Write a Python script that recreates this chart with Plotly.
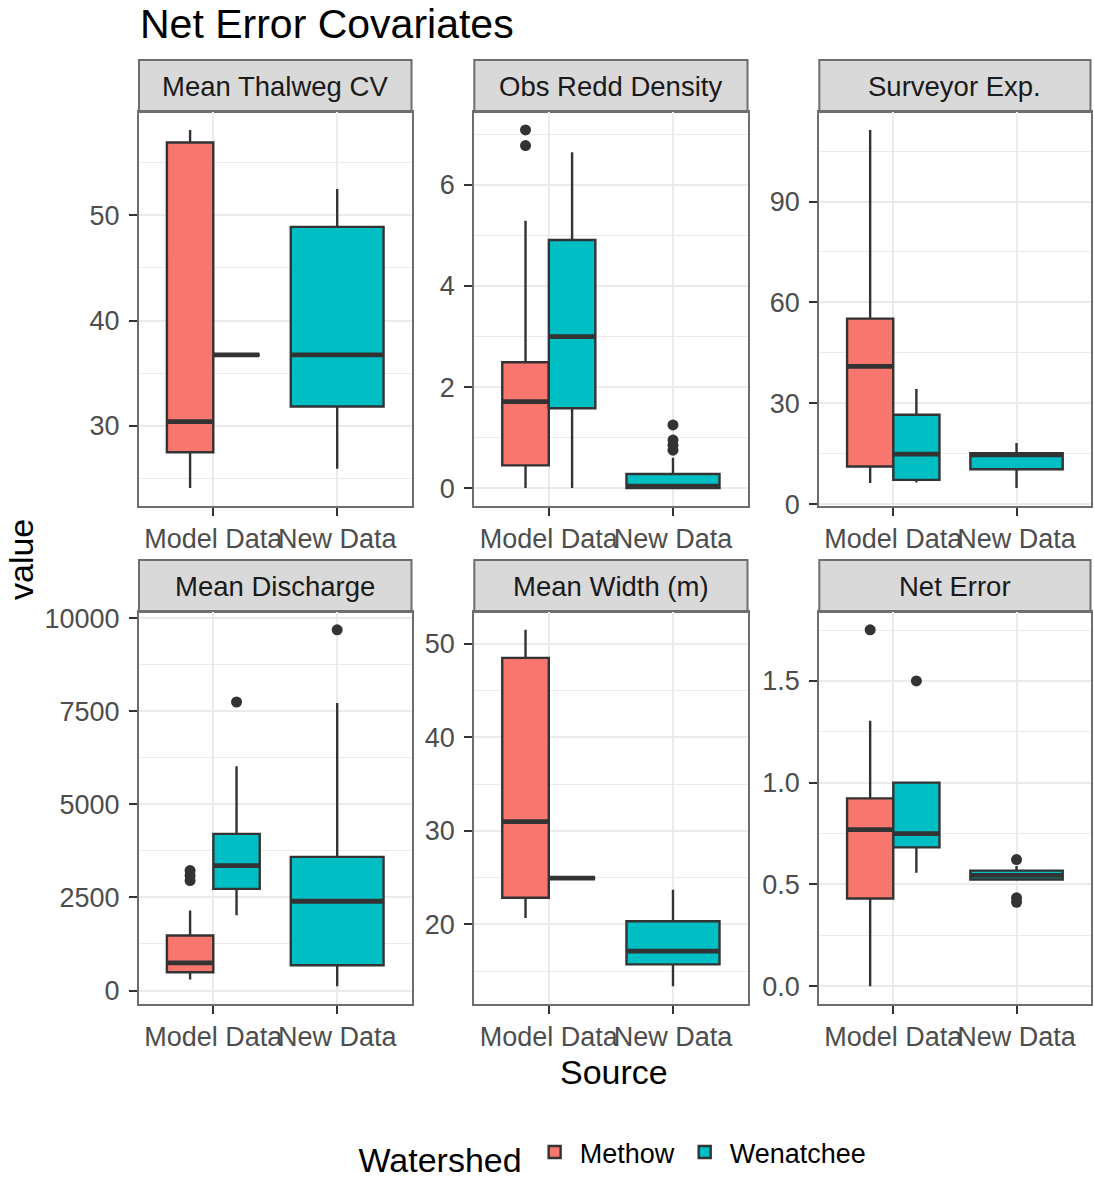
import plotly.graph_objects as go

# ---------------- data ----------------
facets = ["Mean Thalweg CV", "Obs Redd Density", "Surveyor Exp.",
          "Mean Discharge", "Mean Width (m)", "Net Error"]
sources = ["Model Data", "New Data"]
watersheds = ["Methow", "Wenatchee"]

# Methow, Model Data (one value per facet)
methow_model_lower = [24.1, 0.0, 6.3, 295, 20.7, 0.0]
methow_model_q1 = [27.5, 0.45, 11.2, 492, 22.85, 0.431]
methow_model_median = [30.4, 1.71, 41.0, 743, 31.0, 0.769]
methow_model_q3 = [56.9, 2.49, 55.2, 1476, 48.5, 0.923]
methow_model_upper = [58.1, 5.29, 111.3, 2146, 51.5, 1.304]
methow_model_outliers = [[], [7.09, 6.78], [], [3220, 3086, 2952], [], [1.751]]

# Wenatchee, Model Data
wen_model_lower = [36.75, 0.0, 6.45, 2021, 24.95, 0.557]
wen_model_q1 = [36.75, 1.58, 7.25, 2729, 24.95, 0.682]
wen_model_median = [36.75, 3.0, 14.9, 3354, 24.95, 0.750]
wen_model_q3 = [36.75, 4.91, 26.6, 4205, 24.95, 1.0]
wen_model_upper = [36.75, 6.65, 34.3, 6018, 24.95, 1.0]
wen_model_outliers = [[], [], [], [7746], [], [1.5]]

# Wenatchee, New Data
wen_new_lower = [25.94, 0.0, 4.8, 116, 13.4, 0.522]
wen_new_q1 = [31.85, 0.0, 10.4, 679, 15.73, 0.524]
wen_new_median = [36.75, 0.04, 14.7, 2396, 17.15, 0.544]
wen_new_q3 = [48.9, 0.28, 15.2, 3587, 20.35, 0.568]
wen_new_upper = [52.5, 0.6, 18.2, 7719, 23.7, 0.59]
wen_new_outliers = [[], [1.25, 0.95, 0.85, 0.75], [], [9684], [], [0.622, 0.434, 0.412]]

# y-axis tick steps per facet
major_steps = [10, 2, 30, 2500, 10, 0.5]
minor_steps = [5, 1, 15, 1250, 5, 0.25]
tick_formats = ["d", "d", "d", "d", "d", ".1f"]

# ---------------- styling / layout ----------------
W, H = 1094, 1183
colors = {"Methow": "#F8766D", "Wenatchee": "#00BFC4"}
dark = "#333333"
grid = "#EBEBEB"
border = "#6E6E6E"
FONT = "Liberation Sans, Arial, sans-serif"
dodge_width = 0.75

col_px = [(139, 411.5), (474.3, 747.5), (819.3, 1090.5)]
row_px = [(112, 506), (612, 1004)]
strip_px = [(60, 112), (560, 612)]


def fx(v):
    return v / W


def fy(v):
    return 1 - v / H


groups = [
    # (watershed, source index, n groups at that source, slot, stats)
    ("Methow", 0, 2, 0, methow_model_lower, methow_model_q1, methow_model_median,
     methow_model_q3, methow_model_upper, methow_model_outliers),
    ("Wenatchee", 0, 2, 1, wen_model_lower, wen_model_q1, wen_model_median,
     wen_model_q3, wen_model_upper, wen_model_outliers),
    ("Wenatchee", 1, 1, 0, wen_new_lower, wen_new_q1, wen_new_median,
     wen_new_q3, wen_new_upper, wen_new_outliers),
]

fig = go.Figure()
layout = {}
shapes = []
annotations = []
legend_done = set()

for i, facet in enumerate(facets):
    r, c = divmod(i, 3)
    xa = "x" if i == 0 else f"x{i+1}"
    ya = "y" if i == 0 else f"y{i+1}"
    xk = "xaxis" if i == 0 else f"xaxis{i+1}"
    yk = "yaxis" if i == 0 else f"yaxis{i+1}"

    allvals = []
    for (ws, si, ng, slot, lo, q1, me, q3, up, outl) in groups:
        w = dodge_width / ng
        pos = (si + 1) - dodge_width / 2 + w * (slot + 0.5)
        show = ws not in legend_done
        legend_done.add(ws)
        fig.add_trace(go.Box(
            x=[pos], q1=[q1[i]], median=[me[i]], q3=[q3[i]],
            lowerfence=[lo[i]], upperfence=[up[i]],
            width=w * 0.999, whiskerwidth=0,
            fillcolor=colors[ws], line=dict(color=dark, width=2.4),
            name=ws, legendgroup=ws, showlegend=show,
            boxpoints=False, xaxis=xa, yaxis=ya, hoverinfo="skip"))
        # thicker median line (ggplot fatten = 2)
        fig.add_trace(go.Box(
            x=[pos], q1=[me[i]], median=[me[i]], q3=[me[i]],
            lowerfence=[me[i]], upperfence=[me[i]],
            width=w * 0.985, whiskerwidth=0,
            fillcolor="rgba(0,0,0,0)", line=dict(color=dark, width=4.8),
            name=ws, legendgroup=ws, showlegend=False,
            boxpoints=False, xaxis=xa, yaxis=ya, hoverinfo="skip"))
        if outl[i]:
            fig.add_trace(go.Scatter(
                x=[pos] * len(outl[i]), y=outl[i], mode="markers",
                marker=dict(color=dark, size=11, line=dict(width=0)),
                showlegend=False, xaxis=xa, yaxis=ya, hoverinfo="skip"))
        allvals += [lo[i], up[i]] + list(outl[i])

    vmin, vmax = min(allvals), max(allvals)
    pad = 0.05 * (vmax - vmin)

    x0, x1 = col_px[c]
    y0, y1 = row_px[r]
    layout[xk] = dict(
        domain=[fx(x0), fx(x1)], anchor=ya, range=[0.4, 2.6],
        tickmode="array", tickvals=[1, 2], ticktext=sources, tickangle=0,
        showgrid=True, gridcolor=grid, gridwidth=2, zeroline=False,
        ticks="outside", ticklen=8, tickwidth=2, tickcolor=dark,
        tickfont=dict(size=27, color="#4D4D4D", family=FONT),
        showline=True, mirror=True, linecolor=border, linewidth=2)
    layout[yk] = dict(
        domain=[fy(y1), fy(y0)], anchor=xa, range=[vmin - pad, vmax + pad],
        tick0=0, dtick=major_steps[i], tickformat=tick_formats[i],
        showgrid=True, gridcolor=grid, gridwidth=2, zeroline=False,
        minor=dict(dtick=minor_steps[i], tick0=0, showgrid=True,
                   gridcolor=grid, gridwidth=1, ticks=""),
        ticks="outside", ticklen=8, tickwidth=2, tickcolor=dark,
        ticklabelstandoff=4,
        tickfont=dict(size=27, color="#4D4D4D", family=FONT),
        showline=True, mirror=True, linecolor=border, linewidth=2)

    s0, s1 = strip_px[r]
    shapes.append(dict(type="rect", xref="paper", yref="paper",
                       x0=fx(x0), x1=fx(x1), y0=fy(s1), y1=fy(s0),
                       fillcolor="#D9D9D9", line=dict(color=border, width=2),
                       layer="below"))
    annotations.append(dict(text=facet, xref="paper", yref="paper",
                            x=fx((x0 + x1) / 2), y=fy((s0 + s1) / 2),
                            xanchor="center", yanchor="middle", showarrow=False,
                            font=dict(size=27.5, color="#1A1A1A", family=FONT)))

annotations += [
    dict(text="Net Error Covariates", xref="paper", yref="paper",
         x=fx(138), y=fy(24.5), xanchor="left", yanchor="middle", showarrow=False,
         font=dict(size=41, color="#000000", family=FONT)),
    dict(text="Source", xref="paper", yref="paper",
         x=fx(614), y=fy(1072), xanchor="center", yanchor="middle", showarrow=False,
         font=dict(size=34, color="#000000", family=FONT)),
    dict(text="value", xref="paper", yref="paper", textangle=-90,
         x=fx(21), y=fy(560), xanchor="center", yanchor="middle", showarrow=False,
         font=dict(size=34, color="#000000", family=FONT)),
]

fig.update_layout(
    width=W, height=H,
    margin=dict(l=0, r=0, t=0, b=0, pad=0, autoexpand=False),
    paper_bgcolor="white", plot_bgcolor="white",
    boxmode="overlay", shapes=shapes, annotations=annotations,
    showlegend=True,
    legend=dict(orientation="h", x=fx(614), xanchor="center",
                y=0.0, yanchor="bottom",
                title=dict(text="Watershed", side="left",
                           font=dict(size=34, color="#000000", family=FONT)),
                font=dict(size=27, color="#000000", family=FONT),
                itemwidth=40, bgcolor="rgba(0,0,0,0)"),
    **layout)

fig.write_html(
    "out.html",
    config={"displayModeBar": False},
    post_script="document.body.style.margin='0';document.body.style.overflow='hidden';",
)
